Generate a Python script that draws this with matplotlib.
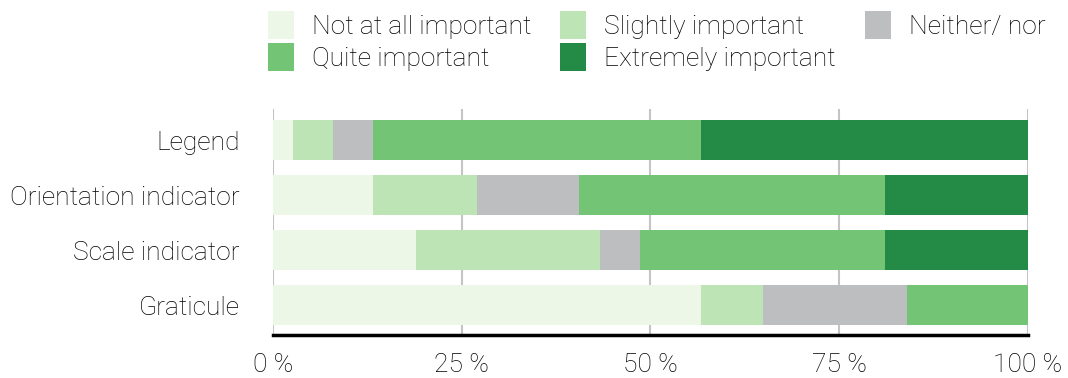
import matplotlib.pyplot as plt
from matplotlib.patches import Patch
import numpy as np

# categories, top to bottom
categories = ['Legend', 'Orientation indicator', 'Scale indicator', 'Graticule']
levels = ['Not at all important', 'Slightly important', 'Neither/ nor',
          'Quite important', 'Extremely important']
colors = ['#edf7e8', '#bce4b5', '#bdbec0', '#74c476', '#238b45']

# shares in percent, one list per answer level (same order as categories)
not_at_all = [2.65, 13.25, 18.95, 56.7]
slightly = [5.3, 13.8, 24.4, 8.2]
neither = [5.3, 13.5, 5.3, 19.1]
quite = [43.4, 40.55, 32.45, 16.0]
extremely = [43.35, 18.9, 18.9, 0.0]

series = [not_at_all, slightly, neither, quite, extremely]

plt.rcParams['font.family'] = ['Roboto', 'DejaVu Sans']
plt.rcParams['font.weight'] = 'light'
fs = 19

fig = plt.figure(figsize=(10.68, 3.78), dpi=100)
ax = fig.add_axes([0.2556, 0.1138, 0.7067, 0.5978])

y = np.arange(len(categories))[::-1]
left = np.zeros(len(categories))
for vals, col, lab in zip(series, colors, levels):
    vals = np.array(vals)
    ax.barh(y, vals, left=left, height=0.73, color=col, label=lab, zorder=2)
    left += vals

ax.set_xlim(0, 100)
ax.set_ylim(-0.54, 3.57)
ax.set_xticks([0, 25, 50, 75, 100])
ax.set_xticklabels(['0 %', '25 %', '50 %', '75 %', '100 %'], fontsize=fs)
ax.set_yticks(y)
ax.set_yticklabels(categories, fontsize=fs)
ax.tick_params(axis='y', length=0, pad=24)
ax.tick_params(axis='x', length=0, pad=13)
ax.grid(axis='x', color='#c4c4c4', linewidth=1.5, zorder=0)
for s in ['top', 'right', 'left']:
    ax.spines[s].set_visible(False)
ax.spines['bottom'].set_linewidth(2.5)
ax.spines['bottom'].set_color('black')
ax.spines['bottom'].set_zorder(3)

# legend in 3 columns, filled column-wise
order = [0, 3, 1, 4, 2]
handles = [Patch(facecolor=colors[i], edgecolor='none', label=levels[i]) for i in order]
fig.legend(handles=handles, ncol=3, loc='upper left', bbox_to_anchor=(0.251, 0.97),
           frameon=False, fontsize=fs, borderpad=0, borderaxespad=0,
           handlelength=0.99, handleheight=1.25,
           handletextpad=0.67, columnspacing=1.1, labelspacing=0.15)

fig.savefig('out.png', dpi=100)
